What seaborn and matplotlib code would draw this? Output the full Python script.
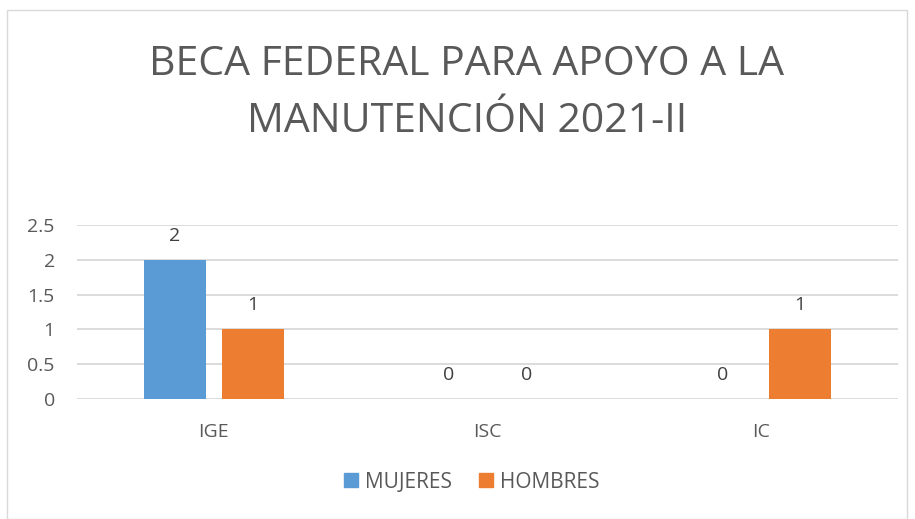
import matplotlib
matplotlib.use("Agg")
import matplotlib.pyplot as plt
import seaborn as sns
import pandas as pd
from matplotlib.patches import Rectangle

categories = ["IGE", "ISC", "IC"]
mujeres = [2, 0, 0]
hombres = [1, 0, 1]
series_names = ["MUJERES", "HOMBRES"]
colors = ["#5B9BD5", "#ED7D31"]
yticks = [0, 0.5, 1, 1.5, 2, 2.5]
title_lines = ["BECA FEDERAL PARA APOYO A LA", "MANUTENCIÓN 2021-II"]

df = pd.DataFrame({
    "cat": categories * 2,
    "val": mujeres + hombres,
    "serie": [series_names[0]] * 3 + [series_names[1]] * 3,
})

sns.set_theme(style="white")
plt.rcParams["font.family"] = ["Open Sans", "DejaVu Sans"]

W, H = 915, 519
fig = plt.figure(figsize=(W / 100, H / 100), dpi=100)
ax = fig.add_axes([77 / W, 1 - 399 / H, (898 - 77) / W, (399 - 225) / H])

sns.barplot(data=df, x="cat", y="val", hue="serie", palette=colors,
            width=0.57, gap=0.2, ax=ax, legend=False, saturation=1, linewidth=0)

ax.set_ylim(0, 2.5)
ax.set_xlim(-0.5, 2.5)
ax.set_yticks(yticks)
ax.set_yticklabels(["0", "0.5", "1", "1.5", "2", "2.5"])
ax.yaxis.grid(True, color="#D9D9D9", linewidth=1.3)
ax.set_axisbelow(True)
for s in ax.spines.values():
    s.set_visible(False)
ax.tick_params(axis="y", length=0, pad=16, labelsize=14, labelcolor="#595959")
ax.tick_params(axis="x", length=0, pad=17, labelsize=14, labelcolor="#595959")
ax.set_xlabel("")
ax.set_ylabel("")

for cont in ax.containers:
    ax.bar_label(cont, labels=[f"{int(v)}" for v in cont.datavalues],
                 padding=11, fontsize=14, color="#404040")

fig.text(467 / W, 1 - 75 / H, title_lines[0], ha="center", va="baseline",
         fontsize=29.5, color="#595959")
fig.text(467 / W, 1 - 132 / H, title_lines[1], ha="center", va="baseline",
         fontsize=29.5, color="#595959")

# legend
handles = [Rectangle((0, 0), 1, 1, color=c) for c in colors]
fig.legend(handles, series_names, loc="center", bbox_to_anchor=(472 / W, 1 - 482 / H),
           ncol=2, frameon=False, fontsize=15, handlelength=0.65, handleheight=0.65,
           handletextpad=0.35, columnspacing=1.3, labelcolor="#595959")

# outer border
fig.patches.append(Rectangle((7 / W, 0.5 / H), (907 - 7) / W, (H - 10 - 0.5) / H,
                             transform=fig.transFigure, fill=False,
                             edgecolor="#D9D9D9", linewidth=1))

fig.savefig("out.png", dpi=100)
